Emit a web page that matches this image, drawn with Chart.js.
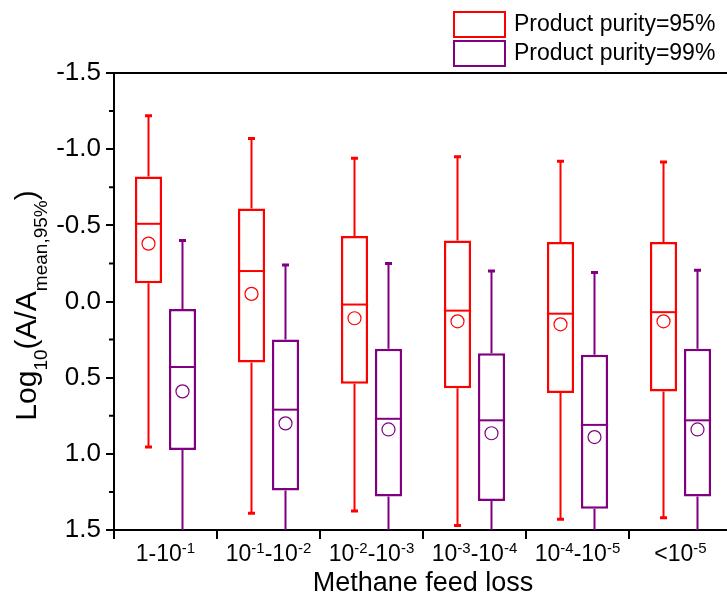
<!DOCTYPE html>
<html>
<head>
<meta charset="utf-8">
<script src="https://cdn.jsdelivr.net/npm/chart.js@4.4.1/dist/chart.umd.min.js"></script>
<style>
    html, body { margin: 0; padding: 0; background: #fff; overflow: hidden; }
</style>
</head>
<body>
<canvas id="boxChart" width="740" height="602"></canvas>
<script>
// Category labels, "^" marks a superscript exponent
const categories = ['1-10^-1', '10^-1-10^-2', '10^-2-10^-3', '10^-3-10^-4', '10^-4-10^-5', '<10^-5'];
const seriesLabels = ['Product purity=95%', 'Product purity=99%'];
const seriesColors = ['#ff0000', '#800080'];

// Product purity 95 %
const p95Min = [-1.22, -1.07, -0.94, -0.95, -0.92, -0.915];
const p95Q1 = [-0.82, -0.61, -0.43, -0.40, -0.39, -0.39];
const p95Median = [-0.51, -0.20, 0.02, 0.06, 0.08, 0.07];
const p95Mean = [-0.38, -0.05, 0.11, 0.13, 0.15, 0.13];
const p95Q3 = [-0.12, 0.40, 0.54, 0.57, 0.60, 0.59];
const p95Max = [0.955, 1.39, 1.375, 1.47, 1.43, 1.42];

// Product purity 99 %
const p99Min = [-0.40, -0.24, -0.25, -0.20, -0.19, -0.205];
const p99Q1 = [0.05, 0.25, 0.31, 0.34, 0.35, 0.31];
const p99Median = [0.43, 0.71, 0.77, 0.78, 0.81, 0.78];
const p99Mean = [0.59, 0.80, 0.84, 0.865, 0.89, 0.84];
const p99Q3 = [0.975, 1.24, 1.28, 1.31, 1.36, 1.28];
const p99Max = [1.8, 1.85, 1.8, 1.85, 1.8, 1.8];

const yTicks = [-1.5, -1.0, -0.5, 0.0, 0.5, 1.0, 1.5];

const FONT = '"Liberation Sans", Arial, sans-serif';

const stats = [
    { min: p95Min, median: p95Median, mean: p95Mean, max: p95Max },
    { min: p99Min, median: p99Median, mean: p99Mean, max: p99Max }
];

// draw text with ^exponent parts raised, centred on x
function drawRichLabel(ctx, text, cx, baseline, size, supSize, rise) {
    const parts = text.split(/\^(-?\d+)/);
    const pieces = parts.map((p, i) => ({ text: p, sup: i % 2 === 1 }));
    let total = 0;
    pieces.forEach(p => {
        ctx.font = (p.sup ? supSize : size) + 'px ' + FONT;
        p.w = ctx.measureText(p.text).width;
        total += p.w;
    });
    let x = cx - total / 2;
    ctx.textAlign = 'left';
    ctx.textBaseline = 'alphabetic';
    pieces.forEach(p => {
        ctx.font = (p.sup ? supSize : size) + 'px ' + FONT;
        ctx.fillText(p.text, x, p.sup ? baseline - rise : baseline);
        x += p.w;
    });
}

const boxPlotPlugin = {
    id: 'boxPlotParts',
    afterDatasetsDraw(chart) {
        const { ctx, chartArea, scales } = chart;
        const y = scales.y;
        ctx.save();
        ctx.beginPath();
        ctx.rect(chartArea.left, chartArea.top, chartArea.right - chartArea.left, chartArea.bottom - chartArea.top);
        ctx.clip();
        stats.forEach((s, di) => {
            const meta = chart.getDatasetMeta(di);
            ctx.strokeStyle = seriesColors[di];
            meta.data.forEach((bar, i) => {
                const q1 = chart.data.datasets[di].data[i][0];
                const q3 = chart.data.datasets[di].data[i][1];
                const x = bar.x;
                const half = bar.width / 2;
                const pMin = y.getPixelForValue(s.min[i]);
                const pMax = y.getPixelForValue(s.max[i]);
                const pQ1 = y.getPixelForValue(q1);
                const pQ3 = y.getPixelForValue(q3);
                // whiskers
                ctx.lineWidth = 2;
                ctx.beginPath();
                ctx.moveTo(x, pMin);
                ctx.lineTo(x, pQ1);
                ctx.moveTo(x, pQ3);
                ctx.lineTo(x, pMax);
                ctx.stroke();
                // caps
                ctx.lineWidth = 3;
                ctx.beginPath();
                ctx.moveTo(x - 3.5, pMin);
                ctx.lineTo(x + 3.5, pMin);
                ctx.moveTo(x - 3.5, pMax);
                ctx.lineTo(x + 3.5, pMax);
                ctx.stroke();
                // median
                ctx.lineWidth = 2;
                const pMed = y.getPixelForValue(s.median[i]);
                ctx.beginPath();
                ctx.moveTo(x - half, pMed);
                ctx.lineTo(x + half, pMed);
                ctx.stroke();
                // mean
                ctx.lineWidth = 1.2;
                ctx.beginPath();
                ctx.arc(x, y.getPixelForValue(s.mean[i]), 6.5, 0, Math.PI * 2);
                ctx.stroke();
            });
        });
        ctx.restore();
    },
    afterDraw(chart) {
        const { ctx, chartArea, scales } = chart;
        const x = scales.x;
        const y = scales.y;
        ctx.save();
        ctx.fillStyle = '#000';
        ctx.strokeStyle = '#000';

        // top frame line
        ctx.lineWidth = 2;
        ctx.beginPath();
        ctx.moveTo(chartArea.left - 1, chartArea.top);
        ctx.lineTo(chartArea.right, chartArea.top);
        ctx.stroke();

        // minor ticks on the y axis
        ctx.beginPath();
        for (let i = 0; i < yTicks.length - 1; i++) {
            const py = y.getPixelForValue((yTicks[i] + yTicks[i + 1]) / 2);
            ctx.moveTo(chartArea.left - 5, py);
            ctx.lineTo(chartArea.left, py);
        }
        ctx.stroke();

        // category labels with exponents
        categories.forEach((c, i) => {
            drawRichLabel(ctx, c, x.getPixelForValue(i), 561, 23, 15, 8);
        });

        // y axis title with subscripts
        ctx.translate(28, (chartArea.top + chartArea.bottom) / 2 + 4);
        ctx.rotate(-Math.PI / 2);
        const parts = [
            { t: 'Log', sub: false }, { t: '10', sub: true },
            { t: '(A/A', sub: false }, { t: 'mean,95%', sub: true },
            { t: ')', sub: false }
        ];
        let total = 0;
        parts.forEach(p => {
            ctx.font = (p.sub ? 19 : 30) + 'px ' + FONT;
            p.w = ctx.measureText(p.t).width;
            total += p.w;
        });
        let tx = -total / 2;
        ctx.textBaseline = 'middle';
        ctx.textAlign = 'left';
        parts.forEach(p => {
            ctx.font = (p.sub ? 19 : 30) + 'px ' + FONT;
            ctx.fillText(p.t, tx, p.sub ? 14 : 0);
            tx += p.w;
        });
        ctx.restore();

        // legend
        ctx.save();
        ctx.textBaseline = 'middle';
        ctx.textAlign = 'left';
        ctx.font = '23px ' + FONT;
        seriesLabels.forEach((label, i) => {
            const top = 12 + i * 29;
            ctx.strokeStyle = seriesColors[i];
            ctx.lineWidth = 2;
            ctx.strokeRect(454, top, 51, 25);
            ctx.fillStyle = '#000';
            ctx.fillText(label, 514, top + 13);
        });
        ctx.restore();
    }
};

new Chart(document.getElementById('boxChart').getContext('2d'), {
    type: 'bar',
    data: {
        labels: categories,
        datasets: seriesLabels.map((label, di) => ({
            label: label,
            data: categories.map((_, i) => di === 0 ? [p95Q1[i], p95Q3[i]] : [p99Q1[i], p99Q3[i]]),
            backgroundColor: '#ffffff',
            borderColor: seriesColors[di],
            borderWidth: 2.5,
            borderSkipped: false,
            categoryPercentage: 0.66,
            barPercentage: 0.8
        }))
    },
    options: {
        responsive: false,
        animation: false,
        layout: { padding: { top: 73, right: 8, left: 0, bottom: 0 } },
        plugins: {
            legend: { display: false },
            tooltip: { enabled: false }
        },
        scales: {
            x: {
                grid: {
                    offset: true,
                    drawOnChartArea: false,
                    tickLength: 9,
                    lineWidth: 2,
                    color: '#000'
                },
                border: { color: '#000', width: 2 },
                ticks: { callback: () => '' },
                title: {
                    display: true,
                    text: 'Methane feed loss',
                    color: '#000',
                    font: { family: FONT, size: 27 },
                    padding: { top: 0, bottom: 2 }
                },
                afterFit: scale => { scale.height = 72; }
            },
            y: {
                reverse: true,
                min: -1.5,
                max: 1.5,
                afterBuildTicks: scale => {
                    scale.ticks = yTicks.map(v => ({ value: v }));
                },
                ticks: {
                    color: '#000',
                    padding: 5,
                    font: { family: FONT, size: 26 },
                    callback: v => Number(v).toFixed(1)
                },
                grid: {
                    drawOnChartArea: false,
                    tickLength: 8,
                    lineWidth: 2,
                    color: '#000'
                },
                border: { color: '#000', width: 2 },
                afterFit: scale => { scale.width = 114; }
            }
        }
    },
    plugins: [boxPlotPlugin]
});
</script>
</body>
</html>
